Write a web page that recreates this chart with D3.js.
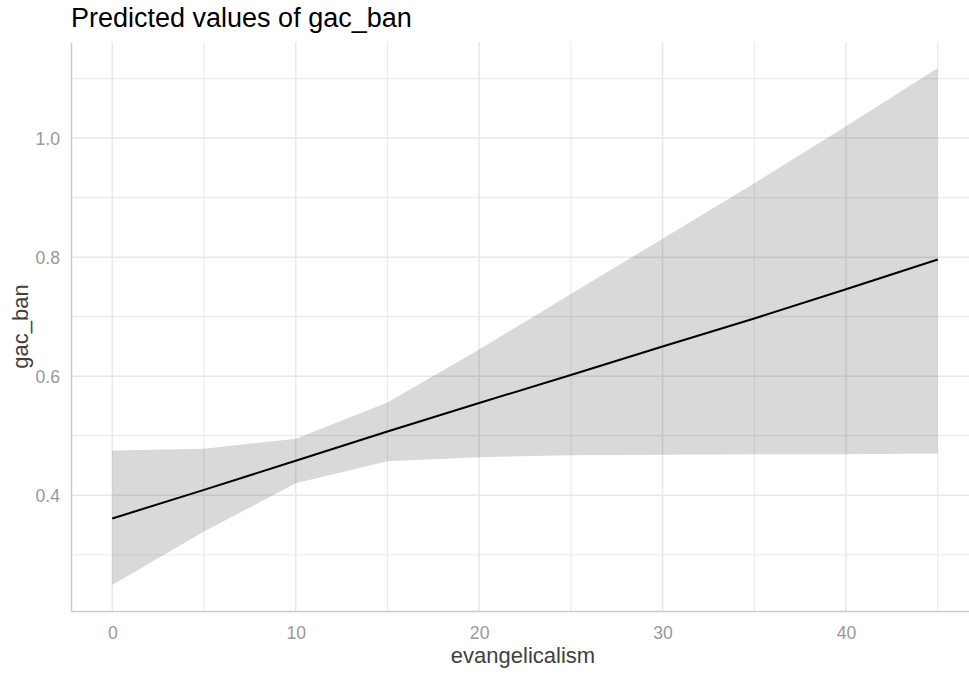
<!DOCTYPE html>
<html>
<head>
<meta charset="utf-8">
<script src="https://cdn.jsdelivr.net/npm/d3@7"></script>
<style>
  body { margin: 0; background: #fff; }
  svg { display: block; font-family: "Liberation Sans", Arial, sans-serif; }
</style>
</head>
<body>
<script>
// predicted values
const evangelicalism = [0, 5, 10, 15, 20, 25, 30, 35, 40, 45]
const predicted = [0.361, 0.409, 0.458, 0.507, 0.555, 0.602, 0.650, 0.697, 0.746, 0.796]
const ciLow = [0.249, 0.339, 0.420, 0.457, 0.464, 0.467, 0.468, 0.469, 0.469, 0.470]
const ciHigh = [0.475, 0.478, 0.495, 0.556, 0.645, 0.738, 0.831, 0.924, 1.020, 1.118]

const xTicks = [0, 10, 20, 30, 40]
const xMinor = [5, 15, 25, 35, 45]
const yTicks = [0.4, 0.6, 0.8, 1.0]
const yMinor = [0.3, 0.5, 0.7, 0.9, 1.1]

const data = evangelicalism.map((d, i) => ({ x: d, y: predicted[i], lo: ciLow[i], hi: ciHigh[i] }))

var width = 969, height = 674
var svg = d3.select("body").append("svg")
    .attr("width", width)
    .attr("height", height)

var x = d3.scaleLinear()
    .domain([-2.25, 47.25])
    .range([71, 979])

var y = d3.scaleLinear()
    .domain([0.2055, 1.1615])
    .range([611, 42])

// grid
var grid = svg.append("g")
grid.selectAll(".vminor").data(xMinor).enter().append("line")
    .attr("x1", d => x(d)).attr("x2", d => x(d))
    .attr("y1", y.range()[1]).attr("y2", y.range()[0])
    .attr("stroke", "#ececec").attr("stroke-width", 1.2)
grid.selectAll(".hminor").data(yMinor).enter().append("line")
    .attr("x1", x.range()[0]).attr("x2", x.range()[1])
    .attr("y1", d => y(d)).attr("y2", d => y(d))
    .attr("stroke", "#ececec").attr("stroke-width", 1.2)
grid.selectAll(".vmajor").data(xTicks).enter().append("line")
    .attr("x1", d => x(d)).attr("x2", d => x(d))
    .attr("y1", y.range()[1]).attr("y2", y.range()[0])
    .attr("stroke", "#e8e8e8").attr("stroke-width", 1.5)
grid.selectAll(".hmajor").data(yTicks).enter().append("line")
    .attr("x1", x.range()[0]).attr("x2", x.range()[1])
    .attr("y1", d => y(d)).attr("y2", d => y(d))
    .attr("stroke", "#e8e8e8").attr("stroke-width", 1.5)

// confidence band
var area = d3.area()
    .x(d => x(d.x))
    .y0(d => y(d.lo))
    .y1(d => y(d.hi))

svg.append("path")
    .datum(data)
    .attr("d", area)
    .attr("fill", "#000")
    .attr("fill-opacity", 0.15)

var line = d3.line()
    .x(d => x(d.x))
    .y(d => y(d.y))

svg.append("path")
    .datum(data)
    .attr("d", line)
    .attr("fill", "none")
    .attr("stroke", "#000")
    .attr("stroke-width", 2)

// axes
var xAxis = d3.axisBottom(x).tickValues(xTicks).tickSize(0).tickSizeOuter(0)
var gx = svg.append("g")
    .attr("transform", "translate(0," + y.range()[0] + ")")
    .call(xAxis)
gx.select(".domain").attr("stroke", "#cccccc").attr("stroke-width", 1.5)
gx.selectAll("text")
    .attr("y", 27.5).attr("dy", null)
    .attr("fill", "#999999")
    .style("font-size", "17.6px")
    .style("font-family", "Liberation Sans, Arial, sans-serif")

var yAxis = d3.axisLeft(y).tickValues(yTicks).tickFormat(d3.format(".1f")).tickSize(0).tickSizeOuter(0)
var gy = svg.append("g")
    .attr("transform", "translate(" + x.range()[0] + ",0)")
    .call(yAxis)
gy.select(".domain").attr("stroke", "#cccccc").attr("stroke-width", 1.5)
gy.selectAll("text")
    .attr("x", -11).attr("dy", "0.35em")
    .attr("fill", "#999999")
    .style("font-size", "17.6px")
    .style("font-family", "Liberation Sans, Arial, sans-serif")

// titles
svg.append("text")
    .attr("x", 71).attr("y", 27)
    .attr("fill", "#000")
    .style("font-size", "27px")
    .text("Predicted values of gac_ban")

svg.append("text")
    .attr("x", 523).attr("y", 663)
    .attr("text-anchor", "middle")
    .attr("fill", "#404040")
    .style("font-size", "22px")
    .text("evangelicalism")

svg.append("text")
    .attr("transform", "translate(28," + (y.range()[0] + y.range()[1]) / 2 + ") rotate(-90)")
    .attr("text-anchor", "middle")
    .attr("fill", "#404040")
    .style("font-size", "22px")
    .text("gac_ban")
</script>
</body>
</html>
